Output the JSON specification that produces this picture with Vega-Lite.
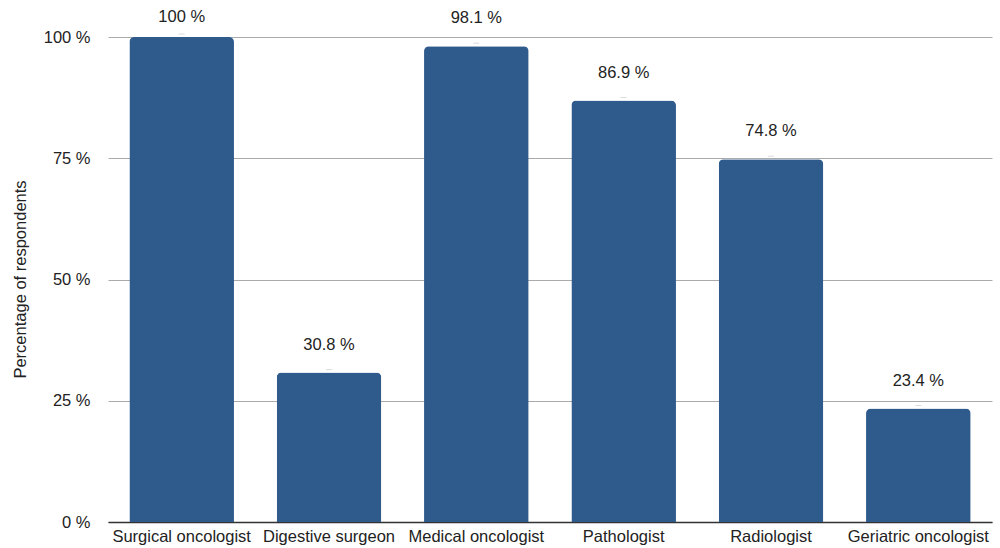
{
  "$schema": "https://vega.github.io/schema/vega-lite/v6.json",
  "width": 884,
  "height": 485,
  "autosize": "none",
  "padding": {"left": 108, "top": 37, "right": 8, "bottom": 26},
  "background": "white",
  "config": {
    "font": "Liberation Sans",
    "view": {"stroke": null}
  },
  "data": {
    "values": [
      {"specialty": "Surgical oncologist", "pct": 100, "label": "100 %"},
      {"specialty": "Digestive surgeon", "pct": 30.8, "label": "30.8 %"},
      {"specialty": "Medical oncologist", "pct": 98.1, "label": "98.1 %"},
      {"specialty": "Pathologist", "pct": 86.9, "label": "86.9 %"},
      {"specialty": "Radiologist", "pct": 74.8, "label": "74.8 %"},
      {"specialty": "Geriatric oncologist", "pct": 23.4, "label": "23.4 %"}
    ]
  },
  "encoding": {
    "x": {
      "field": "specialty",
      "type": "nominal",
      "sort": null,
      "scale": {"paddingInner": 0.29, "paddingOuter": 0.145},
      "axis": {
        "title": null,
        "labelAngle": 0,
        "labelFontSize": 16.5,
        "labelColor": "#222",
        "labelPadding": 6,
        "ticks": false,
        "domainColor": "#333",
        "domainWidth": 1.5,
        "grid": false
      }
    },
    "y": {
      "field": "pct",
      "type": "quantitative",
      "scale": {"domain": [0, 100], "nice": false},
      "axis": {
        "title": "Percentage of respondents",
        "titleFontSize": 16.5,
        "titleFontWeight": "normal",
        "titleColor": "#222",
        "titleX": -88,
        "titleY": 242,
        "titleAngle": -90,
        "titleAlign": "center",
        "titleBaseline": "middle",
        "values": [0, 25, 50, 75, 100],
        "labelExpr": "datum.value + ' %'",
        "labelFontSize": 16.5,
        "labelColor": "#222",
        "labelPadding": 18,
        "ticks": false,
        "domain": false,
        "gridColor": "#aaaaaa",
        "gridWidth": 1
      }
    }
  },
  "layer": [
    {
      "mark": {"type": "bar", "color": "#2E5A8C", "cornerRadiusTopLeft": 5, "cornerRadiusTopRight": 5}
    },
    {
      "mark": {"type": "tick", "color": "#cccccc", "size": 6, "thickness": 1, "orient": "horizontal", "yOffset": -3}
    },
    {
      "transform": [{"filter": "datum.pct < 99"}],
      "mark": {"type": "text", "dy": -28, "fontSize": 16.5, "color": "#222"},
      "encoding": {"text": {"field": "label"}}
    },
    {
      "transform": [{"filter": "datum.pct >= 99"}],
      "mark": {"type": "text", "dy": -20, "fontSize": 16.5, "color": "#222"},
      "encoding": {"text": {"field": "label"}}
    }
  ]
}
